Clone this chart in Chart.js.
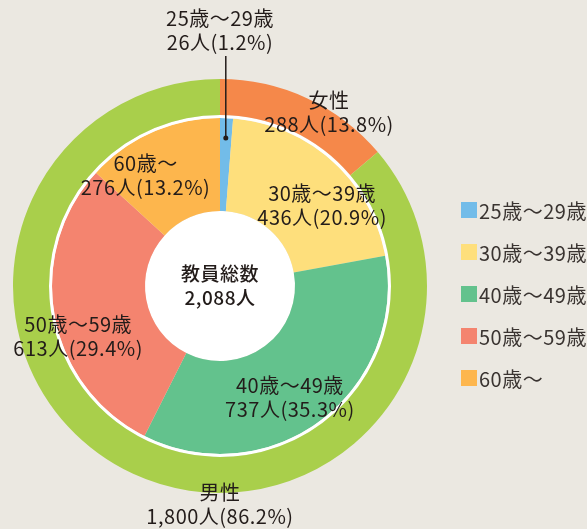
<!DOCTYPE html>
<html>
<head>
<meta charset="utf-8">
<script src="https://cdn.jsdelivr.net/npm/chart.js@4"></script>
<style>
  html, body { margin:0; padding:0; background:#EBE8E1; }
  #wrap { position:relative; width:587px; height:529px; }
</style>
</head>
<body>
<div id="wrap"><canvas id="c" width="587" height="529"></canvas></div>
<script>
const ageLabels = ['25歳～29歳', '30歳～39歳', '40歳～49歳', '50歳～59歳', '60歳～']
const ageCounts = [26, 436, 737, 613, 276]
const agePct = [1.2, 20.9, 35.3, 29.4, 13.2]
const sexLabels = ['女性', '男性']
const sexCounts = [288, 1800]
const sexPct = [13.8, 86.2]
const totalLabel = '教員総数'
const total = 2088

const ageColors = ['#72BCE9', '#FEDF7C', '#63C28D', '#F4846F', '#FDB64D']
const sexColors = ['#F5884A', '#A9CF4B']
const ink = '#231C1A'
const font = '"Noto Sans CJK JP", "Noto Sans", sans-serif'

const fmt = n => n.toLocaleString('en-US')

// label placement tweaks (px) relative to the arc centre point
const ageLabelPos = [
	{ r:148, dx:0, dy:0, leader:true },
	{ r:130, dx:15, dy:16 },
	{ r:130, dx:-8, dy:7 },
	{ r:130, dx:-14, dy:27 },
	{ r:130, dx:-22, dy:8 },
]
const sexLabelPos = [
	{ r:205, dx:23, dy:12 },
	{ r:218, at:Math.PI/2, dx:0, dy:0 },
]

const labelPlugin = {
	id: 'labels',
	beforeDatasetsDraw: ch => {
		const a = ch.getDatasetMeta(2).data[0]
		const ctx = ch.ctx
		ctx.save()
		ctx.fillStyle = '#fff'
		ctx.beginPath()
		ctx.arc(a.x, a.y, a.innerRadius, 0, Math.PI*2)
		ctx.fill()
		ctx.restore()
	},
	afterDraw: ch => {
		const ctx = ch.ctx
		ctx.save()
		ctx.fillStyle = ink
		ctx.strokeStyle = ink
		ctx.textAlign = 'center'
		ctx.textBaseline = 'middle'
		ctx.letterSpacing = '0.5px'
		ctx.font = '20px ' + font

		const lines = (x, y, t) => t.forEach((s, i) => ctx.fillText(s, x, y + (i - (t.length-1)/2) * 24))

		ch.getDatasetMeta(2).data.forEach((a, i) => {
			const p = ageLabelPos[i], m = (a.startAngle + a.endAngle)/2
			const x = a.x + p.r*Math.cos(m) + p.dx, y = a.y + p.r*Math.sin(m) + p.dy
			const t = [ageLabels[i], `${fmt(ageCounts[i])}人(${agePct[i]}%)`]
			if (p.leader) {
				ctx.lineWidth = 1.5
				ctx.beginPath(); ctx.moveTo(x, y); ctx.lineTo(x, 56); ctx.stroke()
				ctx.beginPath(); ctx.arc(x, y, 2.5, 0, Math.PI*2); ctx.fill()
				lines(a.x, 30, t)
			} else lines(x, y, t)
		})

		ch.getDatasetMeta(0).data.forEach((a, i) => {
			const p = sexLabelPos[i], m = p.at ?? (a.startAngle + a.endAngle)/2
			lines(a.x + p.r*Math.cos(m) + p.dx, a.y + p.r*Math.sin(m) + p.dy,
				[sexLabels[i], `${fmt(sexCounts[i])}人(${sexPct[i]}%)`])
		})

		const c = ch.getDatasetMeta(2).data[0]
		ctx.font = '500 19px ' + font
		lines(c.x, c.y, [totalLabel, `${fmt(total)}人`])

		// legend
		ctx.font = '20px ' + font
		ctx.textAlign = 'left'
		ageLabels.forEach((s, i) => {
			const y = 202 + i*42
			ctx.fillStyle = ageColors[i]
			ctx.fillRect(461, y, 16, 16)
			ctx.fillStyle = '#3A3431'
			ctx.fillText(s, 479, y + 9)
		})
		ctx.restore()
	}
}

new Chart(document.getElementById('c'), {
	type: 'doughnut',
	data: {
		labels: ageLabels,
		datasets: [
			{ data: sexCounts, backgroundColor: sexColors, borderWidth: 0, weight: 36 },
			{ data: [1], backgroundColor: '#fff', borderWidth: 0, weight: 3 },
			{ data: ageCounts, backgroundColor: ageColors, borderWidth: 0, weight: 93 },
		]
	},
	options: {
		responsive: false,
		animation: false,
		cutout: 75,
		layout: { padding: { left:13, right:160, top:79, bottom:36 } },
		plugins: { legend: { display:false }, tooltip: { enabled:false } },
		events: [],
	},
	plugins: [labelPlugin]
})
</script>
</body>
</html>
